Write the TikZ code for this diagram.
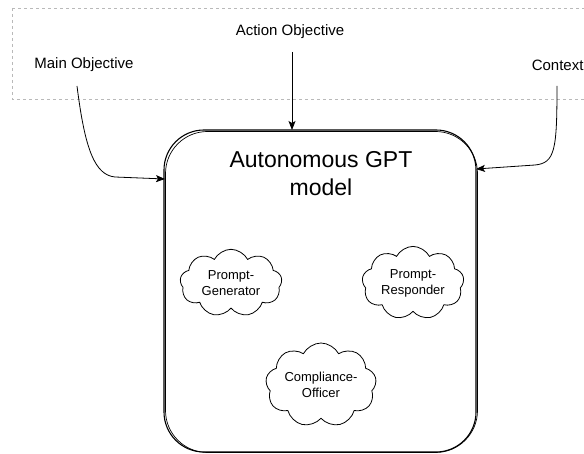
\documentclass[tikz,border=0pt]{standalone}
\usepackage{fontspec}
\setmainfont{Liberation Sans}
\usetikzlibrary{shapes.symbols,arrows.meta}
\begin{document}
\begin{tikzpicture}[x=1pt,y=-1pt,
  lbl/.style={font=\fontsize{15}{18}\selectfont},
  cloudbox/.style={cloud, cloud puffs=9, cloud puff arc=125, aspect=1.55, draw, line width=0.8pt,
    minimum width=102pt, minimum height=66pt, inner sep=0pt, align=center,
    font=\fontsize{13}{16}\selectfont},
  conn/.style={line width=0.8pt, -{Stealth[length=9pt,width=7pt,inset=2pt]}},
  mainbox/.style={draw, line width=1.1pt, rounded corners=40pt, minimum width=312pt, minimum height=322pt, inner sep=0pt}
]
\useasboundingbox (0,0) rectangle (584,454);
% dashed region
\draw[gray!55, dashed, line width=0.6pt] (12,8) -- (590,8) (12,8) -- (12,99) -- (590,99);
% labels
\node[lbl] (ao) at (290,32) {Action Objective};
\node[lbl] (mo) at (84,65) {Main Objective};
\node[lbl, anchor=east] (cx) at (587,65) {Context};
% main box
\node[mainbox] (box) at (320,291) {};
\draw[line width=0.7pt, rounded corners=42pt] (165.5,131.5) rectangle (477.5,452.5);
\node[align=center, font=\fontsize{23}{28}\selectfont] (title) at (321,174) {Autonomous GPT\\model};
% clouds
\node[cloudbox] (pg) at (231,283) {Prompt-\\Generator};
\node[cloudbox] (pr) at (413,283) {Prompt-\\Responder};
\node[cloudbox] (co) at (321,385) {Compliance-\\Officer};
% endpoints on box
\coordinate (moS) at (77,86);
\coordinate (moE) at (165,179);
\coordinate (aoS) at (292,52);
\coordinate (aoE) at (292,130);
\coordinate (cxS) at (557,86);
\coordinate (cxE) at (476,169);
\draw[conn] (moS) .. controls (85,150) and (95,175) .. (115,177) -- (moE);
\draw[conn] (aoS) -- (aoE);
\draw[conn] (cxS) .. controls (557,150) and (555,163) .. (535,165) -- (cxE);
\end{tikzpicture}
\end{document}
